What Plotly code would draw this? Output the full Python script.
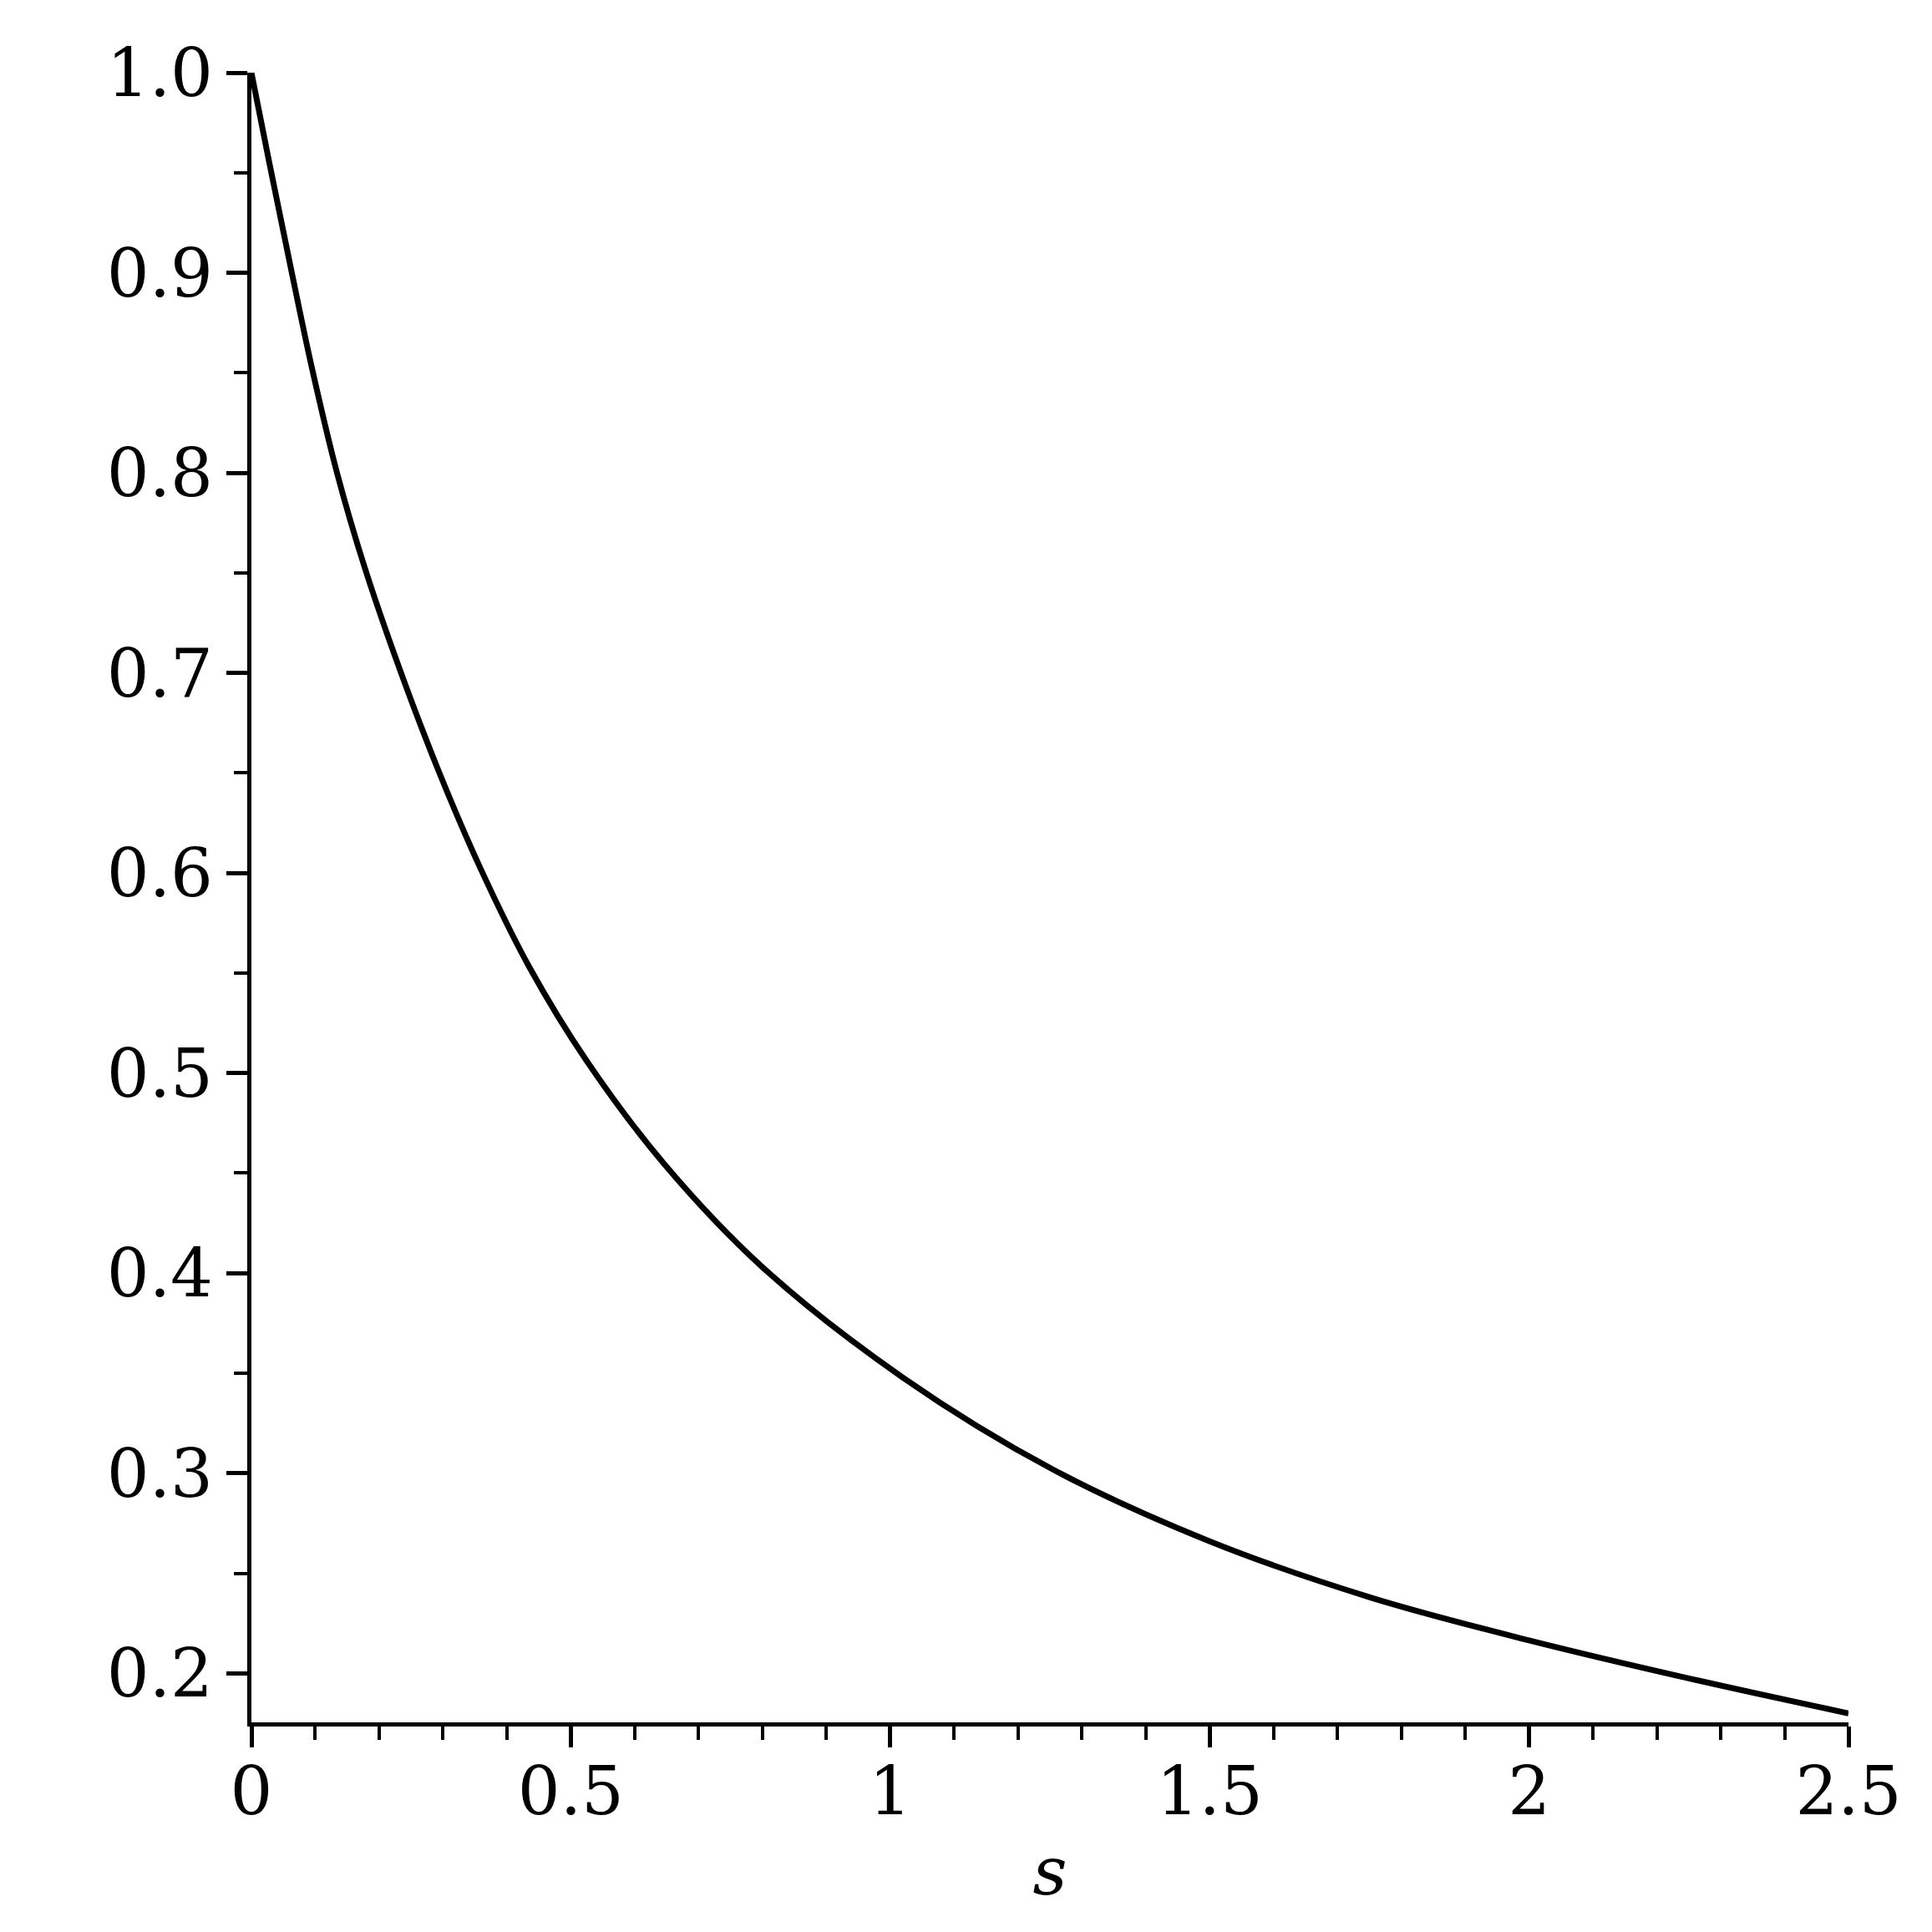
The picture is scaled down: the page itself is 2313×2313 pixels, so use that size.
import plotly.graph_objects as go

# values
s_vals = [0, 0.028, 0.06, 0.095, 0.134, 0.178, 0.232, 0.293, 0.359, 0.435,
          0.525, 0.645, 0.80, 1.019, 1.254, 1.5, 1.751, 2.0, 2.25, 2.5]
y_vals = [1.0, 0.955, 0.905, 0.852, 0.80, 0.752, 0.702, 0.651, 0.602, 0.553,
          0.506, 0.455, 0.403, 0.348, 0.302, 0.266, 0.238, 0.2165, 0.1975, 0.180]

x_ticks = [0, 0.5, 1, 1.5, 2, 2.5]
y_ticks = [0.2, 0.3, 0.4, 0.5, 0.6, 0.7, 0.8, 0.9, 1.0]

FONT = 'DejaVu Serif'

fig = go.Figure(
    data=[
        go.Scatter(
            x=s_vals,
            y=y_vals,
            mode='lines',
            line=dict(color='black', width=7, shape='spline', smoothing=1.0),
            cliponaxis=False,
            showlegend=False,
            ),
        ],
    )

axis_common = dict(
    showline=True,
    linecolor='black',
    linewidth=5,
    ticks='outside',
    ticklen=25,
    tickwidth=5,
    tickcolor='black',
    showgrid=False,
    zeroline=False,
    automargin=False,
    tickfont=dict(family=FONT, size=80, color='black'),
    )

# the page body adds 8px around the figure, so the figure is 16px smaller
fig.update_layout(
    width=2297,
    height=2297,
    plot_bgcolor='white',
    paper_bgcolor='white',
    margin=dict(l=293, r=92, t=79, b=243),
    xaxis=dict(
        range=[0, 2.5],
        tickvals=x_ticks,
        minor=dict(dtick=0.1, tick0=0, ticklen=16, tickwidth=4,
                   tickcolor='black', ticks='outside'),
        ticklabelstandoff=-16,
        title=dict(text='<i>s</i>', font=dict(family=FONT, size=80, color='black'),
                   standoff=23),
        **axis_common,
        ),
    yaxis=dict(
        range=[0.1755, 1.0],
        tickvals=y_ticks,
        tickformat='.1f',
        minor=dict(dtick=0.05, tick0=0, ticklen=16, tickwidth=4,
                   tickcolor='black', ticks='outside'),
        ticklabelstandoff=0,
        **axis_common,
        ),
    )

fig.write_html("out.html")
